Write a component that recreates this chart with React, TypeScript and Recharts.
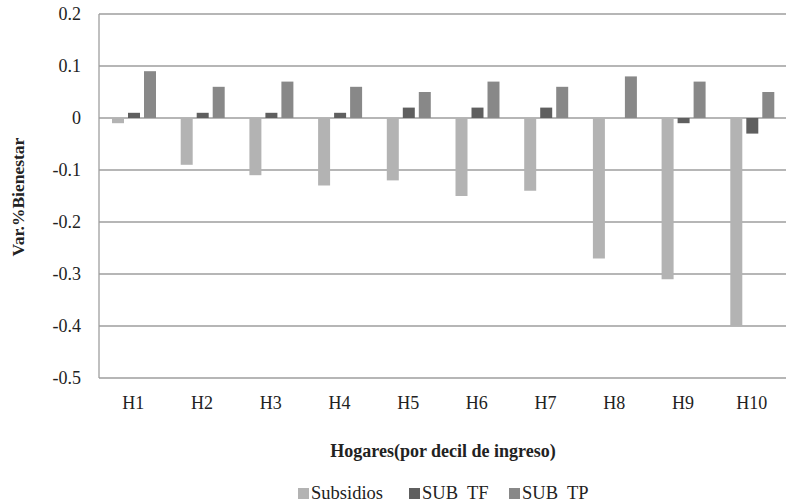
import React from 'react';
import { BarChart, Bar, XAxis, YAxis, CartesianGrid, Legend } from 'recharts';

const categories = ['H1', 'H2', 'H3', 'H4', 'H5', 'H6', 'H7', 'H8', 'H9', 'H10'];
const subsidios = [-0.01, -0.09, -0.11, -0.13, -0.12, -0.15, -0.14, -0.27, -0.31, -0.4];
const subTF = [0.01, 0.01, 0.01, 0.01, 0.02, 0.02, 0.02, 0, -0.01, -0.03];
const subTP = [0.09, 0.06, 0.07, 0.06, 0.05, 0.07, 0.06, 0.08, 0.07, 0.05];
const yTicks = [-0.5, -0.4, -0.3, -0.2, -0.1, 0, 0.1, 0.2];

const seriesInfo = [
  { key: 'subsidios', name: 'Subsidios', color: '#b3b3b3' },
  { key: 'subTF', name: 'SUB  TF', color: '#5f5f5f' },
  { key: 'subTP', name: 'SUB  TP', color: '#888888' },
];

const legendLeft = [298, 409, 509];

const data = categories.map((c, i) => ({
  cat: c,
  subsidios: subsidios[i],
  subTF: subTF[i],
  subTP: subTP[i],
}));

const FONT = '"Liberation Serif", "Times New Roman", serif';

const LegendContent = () => (
  <div style={{ position: 'relative', height: 22, fontFamily: FONT, fontSize: 18.5, color: '#222' }}>
    {seriesInfo.map((s, i) => (
      <div
        key={s.key}
        style={{ position: 'absolute', left: legendLeft[i], top: 0, display: 'flex', alignItems: 'center', lineHeight: '22px' }}
      >
        <span style={{ display: 'inline-block', width: 11, height: 11, background: s.color, marginRight: 2 }} />
        <span style={{ whiteSpace: 'pre' }}>{s.name}</span>
      </div>
    ))}
  </div>
);

export default function App() {
  return (
    <div style={{ position: 'absolute', left: 0, top: 0, width: 788, height: 503, background: '#fff' }}>
      <BarChart
        width={788}
        height={503}
        data={data}
        margin={{ top: 14, right: 2, bottom: 0, left: 0 }}
        barCategoryGap={13}
        barGap={4}
      >
        <CartesianGrid horizontal vertical={false} stroke="#9e9e9e" strokeWidth={1.3} />
        <XAxis
          dataKey="cat"
          height={125}
          axisLine={false}
          tickLine={false}
          tickSize={0}
          tickMargin={18}
          tick={{ fontFamily: FONT, fontSize: 18, fill: '#222' }}
          interval={0}
          label={{
            content: () => (
              <text
                x={443}
                y={457}
                textAnchor="middle"
                fontFamily={FONT}
                fontWeight="bold"
                fontSize={18}
                fill="#222"
              >
                Hogares(por decil de ingreso)
              </text>
            ),
          }}
        />
        <YAxis
          width={99}
          domain={[-0.5, 0.2]}
          ticks={yTicks}
          interval={0}
          axisLine={{ stroke: '#9e9e9e', strokeWidth: 1.3 }}
          tickLine={false}
          tickSize={0}
          tickMargin={18}
          tick={{ fontFamily: FONT, fontSize: 18, fill: '#222' }}
          tickFormatter={(v: number) => String(v)}
          label={{
            content: () => (
              <text
                x={0}
                y={0}
                transform={`translate(24, 197) rotate(-90)`}
                textAnchor="middle"
                fontFamily={FONT}
                fontWeight="bold"
                fontSize={17.5}
                fill="#222"
              >
                Var.%Bienestar
              </text>
            ),
          }}
        />
        <Legend
          layout="horizontal"
          verticalAlign="middle"
          align="center"
          wrapperStyle={{ position: 'absolute', top: 482, left: 0, width: 788 }}
          content={() => <LegendContent />}
        />
        {seriesInfo.map((s) => (
          <Bar key={s.key} dataKey={s.key} name={s.name} fill={s.color} isAnimationActive={false} />
        ))}
      </BarChart>
    </div>
  );
}
